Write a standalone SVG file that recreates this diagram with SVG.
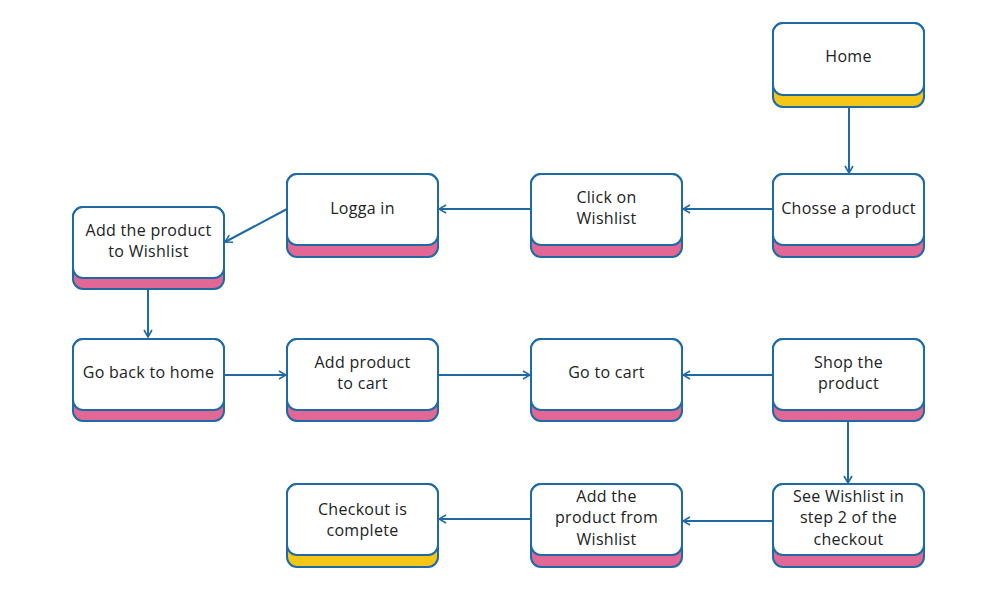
<svg xmlns="http://www.w3.org/2000/svg" width="1003" height="590" viewBox="0 0 1003 590">
<style>
.base{stroke:#1f6aa5;stroke-width:2}
.pink{fill:#e36795}
.yel{fill:#f5c518}
.top{fill:#fff;stroke:#1f6aa5;stroke-width:2}
text{font-family:"Open Sans","Liberation Sans",sans-serif;font-size:16px;font-weight:400;letter-spacing:0.3px;fill:#222;text-anchor:middle;dominant-baseline:central}
.c{fill:none;stroke:#1f6aa5;stroke-width:2;marker-end:url(#ah)}
</style>
<defs>
<marker id="ah" viewBox="0 0 10 10" refX="9" refY="5" markerWidth="10" markerHeight="10" markerUnits="userSpaceOnUse" orient="auto">
<path d="M2,1 L9,5 L2,9" fill="none" stroke="#1f6aa5" stroke-width="1.6"/>
</marker>
</defs>
<rect width="1003" height="590" fill="#fff"/>
<g id="connectors">
<path class="c" d="M849,107 L849,173"/>
<path class="c" d="M773,209 L683,209"/>
<path class="c" d="M531,209 L439,209"/>
<path class="c" d="M287,209 L225,242"/>
<path class="c" d="M148,289 L148,337"/>
<path class="c" d="M224,375 L286,375"/>
<path class="c" d="M438,375 L530,375"/>
<path class="c" d="M773,375 L683,375"/>
<path class="c" d="M848,421 L848,483"/>
<path class="c" d="M772,521 L683,521"/>
<path class="c" d="M531,519 L439,519"/>
</g>
<g id="home">
<rect class="base yel" x="773" y="23" width="151" height="84" rx="10"/>
<rect class="top" x="773" y="23" width="151" height="72" rx="10"/>
<text x="848.5" y="56">Home</text>
</g>
<g id="choose">
<rect class="base pink" x="773" y="174" width="151" height="83" rx="10"/>
<rect class="top" x="773" y="174" width="151" height="71" rx="10"/>
<text x="848.5" y="208">Chosse a product</text>
</g>
<g id="click">
<rect class="base pink" x="531" y="174" width="151" height="83" rx="10"/>
<rect class="top" x="531" y="174" width="151" height="71" rx="10"/>
<text x="606.5" y="197">Click on</text>
<text x="606.5" y="218">Wishlist</text>
</g>
<g id="login">
<rect class="base pink" x="287" y="174" width="151" height="83" rx="10"/>
<rect class="top" x="287" y="174" width="151" height="71" rx="10"/>
<text x="362.5" y="208">Logga in</text>
</g>
<g id="addwish">
<rect class="base pink" x="73" y="207" width="151" height="82" rx="10"/>
<rect class="top" x="73" y="207" width="151" height="71" rx="10"/>
<text x="148.5" y="230">Add the product</text>
<text x="148.5" y="251">to Wishlist</text>
</g>
<g id="goback">
<rect class="base pink" x="73" y="339" width="151" height="82" rx="10"/>
<rect class="top" x="73" y="339" width="151" height="71" rx="10"/>
<text x="148.5" y="372">Go back to home</text>
</g>
<g id="addcart">
<rect class="base pink" x="287" y="339" width="151" height="82" rx="10"/>
<rect class="top" x="287" y="339" width="151" height="71" rx="10"/>
<text x="362.5" y="362">Add product</text>
<text x="362.5" y="383">to cart</text>
</g>
<g id="gocart">
<rect class="base pink" x="531" y="339" width="151" height="82" rx="10"/>
<rect class="top" x="531" y="339" width="151" height="71" rx="10"/>
<text x="606.5" y="372">Go to cart</text>
</g>
<g id="shop">
<rect class="base pink" x="773" y="339" width="151" height="82" rx="10"/>
<rect class="top" x="773" y="339" width="151" height="71" rx="10"/>
<text x="848.5" y="362">Shop the</text>
<text x="848.5" y="383">product</text>
</g>
<g id="seewish">
<rect class="base pink" x="773" y="484" width="151" height="83" rx="10"/>
<rect class="top" x="773" y="484" width="151" height="71" rx="10"/>
<text x="848.5" y="496">See Wishlist in</text>
<text x="848.5" y="517">step 2 of the</text>
<text x="848.5" y="539">checkout</text>
</g>
<g id="addfrom">
<rect class="base pink" x="531" y="484" width="151" height="83" rx="10"/>
<rect class="top" x="531" y="484" width="151" height="71" rx="10"/>
<text x="606.5" y="496">Add the</text>
<text x="606.5" y="517">product from</text>
<text x="606.5" y="539">Wishlist</text>
</g>
<g id="checkout">
<rect class="base yel" x="287" y="484" width="151" height="83" rx="10"/>
<rect class="top" x="287" y="484" width="151" height="71" rx="10"/>
<text x="362.5" y="509">Checkout is</text>
<text x="362.5" y="530">complete</text>
</g>
</svg>
